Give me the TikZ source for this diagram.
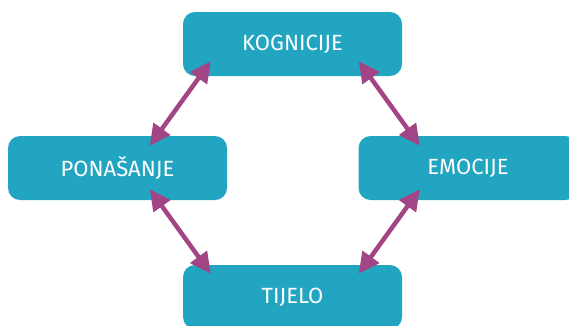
\documentclass[tikz,border=0pt]{standalone}
\usepackage{fontspec}
\setsansfont{Fira Sans}
\usepackage{tikz}
\usetikzlibrary{calc}
\usetikzlibrary{arrows.meta}
\definecolor{tirkiz}{HTML}{22A5C1}
\definecolor{ljubicasta}{HTML}{A24585}
\tikzset{
  blok/.style={rectangle,rounded corners=12pt,fill=tirkiz,draw=none,
    minimum width=219pt,minimum height=64pt,inner sep=0pt,
    text=white,font=\sffamily\fontsize{22}{22}\selectfont},
  dvosmjer/.style={draw=ljubicasta,line width=4.5pt,
    {Triangle[length=21pt,width=20pt]}-{Triangle[length=21pt,width=20pt]}}
}
\newcommand{\podrucje}[4]{\node[blok] (#1) at ( #2 , #3 ) {#4};}
\newcommand{\veza}[2]{\draw[dvosmjer] #1 -- #2;}

\begin{document}
\begin{tikzpicture}[x=1pt,y=-1pt]
            \useasboundingbox (0,0) rectangle (569,325);
            % boxes
            \podrucje{kog}{292.5}{44}{KOGNICIJE}
            \podrucje{pon}{117.5}{168}{PONAŠANJE}
            \podrucje{emo}{468}{168}{EMOCIJE}
            \podrucje{tij}{292.5}{297}{TIJELO}

            % arrows
            \veza{($(kog.south west)+(28,-15)$)}{($(pon.north east)+(-77.5,10)$)}
            \veza{($(kog.south east)+(-43.5,-15)$)}{($(emo.north west)+(61.5,10)$)}
            \veza{($(pon.south east)+(-77.5,-11)$)}{($(tij.north west)+(28,9)$)}
            \veza{($(emo.south west)+(61.5,-11)$)}{($(tij.north east)+(-43.5,9)$)}
        \end{tikzpicture}
\end{document}
